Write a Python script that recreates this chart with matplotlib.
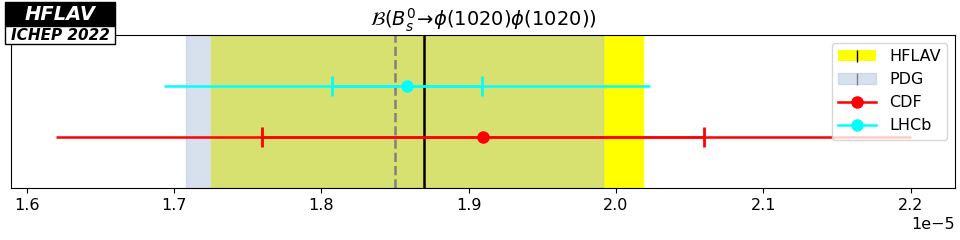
import matplotlib
matplotlib.use("Agg")
import matplotlib.pyplot as plt
from matplotlib.patches import Patch, Rectangle
from matplotlib.lines import Line2D

# averages (units of 1e-5)
hflav_val, hflav_lo, hflav_hi = 1.870, 1.725, 2.018
pdg_val, pdg_lo, pdg_hi = 1.850, 1.708, 1.991

# measurements: value, stat error, total error
experiments = ["CDF", "LHCb"]
values = [1.91, 1.858]
stat_err = [0.15, 0.051]
tot_err = [0.29, 0.165]
colors = ["red", "cyan"]
ypos = [1, 2]

scale = 1e-5

fig = plt.figure(figsize=(9.6, 2.4), dpi=100)
ax = fig.add_axes([0.0115, 0.2167, 0.9833, 0.6375])

ax.axvspan(hflav_lo * scale, hflav_hi * scale, color="yellow", zorder=0)
ax.axvspan(pdg_lo * scale, pdg_hi * scale, facecolor="lightsteelblue", edgecolor="lightsteelblue", alpha=0.5, zorder=1)
ax.axvline(hflav_val * scale, color="black", lw=1.8, zorder=2)
ax.axvline(pdg_val * scale, color="grey", lw=1.8, ls="--", zorder=2)

handles = [
    (Patch(facecolor="yellow"), Line2D([], [], marker="|", color="black", ls="None", markersize=8)),
    (Patch(facecolor="lightsteelblue", edgecolor="lightsteelblue", alpha=0.5),
     Line2D([], [], marker="|", color="grey", ls="None", markersize=8)),
]
for name, v, s, t, c, y in zip(experiments, values, stat_err, tot_err, colors, ypos):
    ax.errorbar(v * scale, y, xerr=t * scale, color=c, lw=1.8, zorder=3)
    ax.errorbar(v * scale, y, xerr=s * scale, color=c, lw=1.8, capsize=7, capthick=2, zorder=3)
    ax.plot(v * scale, y, "o", color=c, markersize=8, zorder=4)
    handles.append(Line2D([], [], color=c, lw=1.8, marker="o", markersize=8))

ax.set_xlim(1.5895e-5, 2.230e-5)
ax.set_ylim(0, 3)
ax.set_yticks([])
ax.tick_params(axis="x", labelsize=11.5)
ax.xaxis.get_offset_text().set_fontsize(11.5)
ax.set_title(r"$\mathcal{B}(B_s^0\!\rightarrow\!\phi(1020)\phi(1020))$", fontsize=14)

ax.legend(handles, ["HFLAV", "PDG", "CDF", "LHCb"], loc="upper right", fontsize=11.5,
          handlelength=2.4)

# HFLAV logo
fig.patches.append(Rectangle((5 / 960, 1 - 26 / 240), 110 / 960, 24 / 240,
                             transform=fig.transFigure, facecolor="black", edgecolor="black"))
fig.patches.append(Rectangle((5 / 960, 1 - 44 / 240), 110 / 960, 18 / 240,
                             transform=fig.transFigure, facecolor="white", edgecolor="black", lw=1, zorder=5))
fig.text(60 / 960, 1 - 14 / 240, "HFLAV", color="white", fontsize=14, fontweight="bold",
         fontstyle="italic", ha="center", va="center")
fig.text(60 / 960, 1 - 35.5 / 240, "ICHEP 2022", color="black", fontsize=11, fontweight="bold",
         fontstyle="italic", ha="center", va="center", zorder=6)

fig.savefig("out.png", dpi=100)
